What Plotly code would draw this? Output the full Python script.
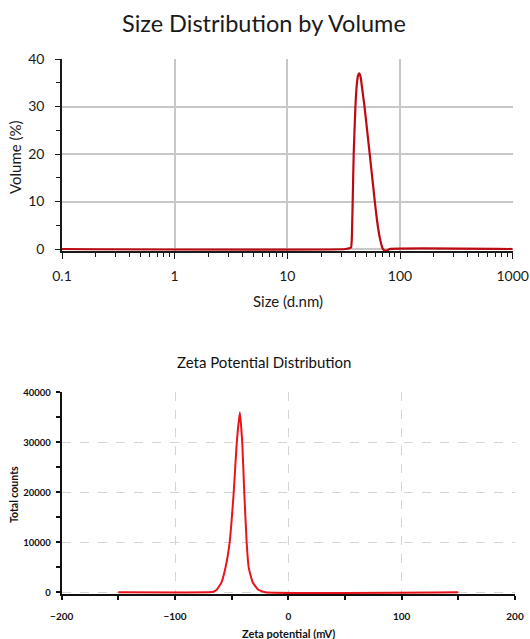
import plotly.graph_objects as go

# ---- data ----
size_nm = [0.1, 33.0, 36.7, 37.3, 38.0, 38.8, 40.2, 41.3, 42.4, 43.4, 44.6, 46.0, 48.4,
           51.2, 54.5, 57.6, 59.6, 62.5, 66.1, 69.8, 72.5, 77.0, 81.0, 1000]
volume_pct = [0, 0, 0.3, 2.0, 10, 20, 30, 34.5, 36.5, 37, 36.3, 34, 30,
              24.7, 18.8, 13.5, 10.2, 6, 2.4, 0.2, -0.3, -0.3, 0, 0]

zeta_mv = [-150, -70, -66, -63.2, -59, -55.4, -51.8, -48.2, -45.5, -42.8,
           -40.7, -38.9, -36.8, -35, -31.5, -26.4, -20.4, 150]
total_counts = [0, 0, 100, 500, 2000, 5000, 10000, 20000, 30000, 36000,
                30000, 20000, 10000, 5000, 2000, 500, 0, 0]

size_ticks = [0.1, 1, 10, 100, 1000]
size_ticktext = ["0.1", "1", "10", "100", "1000"]
size_minor = [a * b for a in [0.1, 1, 10, 100] for b in range(2, 10)]
volume_ticks = [0, 10, 20, 30, 40]
volume_minor = [5, 15, 25, 35]
zeta_ticks = [-200, -100, 0, 100, 200]
zeta_minor = [-150, -50, 50, 150]
count_ticks = [0, 10000, 20000, 30000, 40000]
count_minor = [5000, 15000, 25000, 35000]

W, H = 530, 639
def px(x): return x / W
def py(y): return 1 - y / H

FONT = "Lato, 'Open Sans', sans-serif"
INK = "#1a1a1a"

fig = go.Figure()
fig.add_trace(go.Scatter(x=size_nm, y=volume_pct, mode="lines",
                         line=dict(color="#bd0a12", width=2.2, shape="spline", smoothing=0.4),
                         xaxis="x", yaxis="y", showlegend=False, hoverinfo="x+y"))
fig.add_trace(go.Scatter(x=zeta_mv, y=total_counts, mode="lines",
                         line=dict(color="#e8141a", width=2, shape="spline", smoothing=0.4),
                         xaxis="x2", yaxis="y2", showlegend=False, hoverinfo="x+y"))

TOP_X = [px(62), px(512.7)]
TOP_Y = [py(250.9), py(59)]
BOT_X = [px(61.7), px(515)]
BOT_Y = [py(594.3), py(392.3)]

common = dict(zeroline=False, automargin=False, fixedrange=True)

def inner(**kw):
    d = dict(ticks="inside", showticklabels=False, showgrid=False, showline=False,
             zeroline=False, automargin=False, fixedrange=True)
    d.update(kw)
    return d

fig.update_layout(
    width=W, height=H,
    margin=dict(l=0, r=0, t=0, b=0),
    paper_bgcolor="white", plot_bgcolor="white",
    # ---- top chart ----
    xaxis=dict(domain=TOP_X, anchor="y", type="log", range=[-1, 3],
               tickvals=size_ticks, ticktext=size_ticktext,
               showgrid=True, gridcolor="#c8c8c8", gridwidth=1.5,
               showline=True, linecolor=INK, linewidth=1.5, layer="below traces",
               ticks="outside", ticklen=6, tickcolor=INK, tickwidth=1.3,
               minor=dict(ticks="outside", ticklen=4, tickcolor=INK, tickwidth=1,
                          tickvals=size_minor, showgrid=False),
               tickfont=dict(family=FONT, size=14, color=INK),
               ticklabelstandoff=6, **common),
    yaxis=dict(domain=TOP_Y, anchor="x", range=[-0.4, 40],
               tickvals=volume_ticks,
               showgrid=True, gridcolor="#c8c8c8", gridwidth=1.5,
               showline=True, linecolor=INK, linewidth=1.5, layer="below traces",
               ticks="outside", ticklen=5, tickcolor=INK, tickwidth=1.3,
               minor=dict(ticks="outside", ticklen=4, tickcolor=INK, tickwidth=1,
                          tickvals=volume_minor, showgrid=False),
               tickfont=dict(family=FONT, size=14, color=INK),
               ticklabelstandoff=8, **common),
    xaxis3=inner(overlaying="x", anchor="y", type="log", range=[-1, 3],
                 tickvals=size_ticks, ticklen=5, tickcolor=INK, tickwidth=1.3),
    yaxis3=inner(overlaying="y", anchor="x", range=[-0.4, 40],
                 tickvals=volume_ticks, ticklen=5, tickcolor=INK, tickwidth=1.3,
                 minor=dict(ticks="inside", ticklen=4, tickcolor=INK, tickwidth=1,
                            tickvals=volume_minor, showgrid=False)),
    # ---- bottom chart ----
    xaxis2=dict(domain=BOT_X, anchor="y2", range=[-200, 200],
                tickvals=zeta_ticks,
                showgrid=True, gridcolor="#d4d4d4", gridwidth=1, griddash="dash",
                showline=True, linecolor="#111111", linewidth=2, layer="below traces",
                ticks="outside", ticklen=4, tickcolor="#111111", tickwidth=1.5,
                minor=dict(ticks="outside", ticklen=4, tickcolor="#111111", tickwidth=1.5,
                           tickvals=zeta_minor, showgrid=False),
                tickfont=dict(family=FONT, size=10, color="#111111", weight="bold"),
                ticklabelstandoff=8, **common),
    yaxis2=dict(domain=BOT_Y, anchor="x2", range=[-400, 40000],
                tickvals=count_ticks, tickformat="d",
                showgrid=True, gridcolor="#d4d4d4", gridwidth=1, griddash="dash",
                showline=True, linecolor="#111111", linewidth=2, layer="below traces",
                ticks="outside", ticklen=4, tickcolor="#111111", tickwidth=1.5,
                minor=dict(ticks="outside", ticklen=4, tickcolor="#111111", tickwidth=1.5,
                           tickvals=count_minor, showgrid=False),
                tickfont=dict(family=FONT, size=9.5, color="#111111", weight="bold"),
                ticklabelstandoff=3, **common),
    xaxis4=inner(overlaying="x2", anchor="y2", range=[-200, 200],
                 tickvals=zeta_ticks, ticklen=4, tickcolor="#111111", tickwidth=1.5,
                 minor=dict(ticks="inside", ticklen=4, tickcolor="#111111", tickwidth=1.5,
                            tickvals=zeta_minor, showgrid=False)),
    yaxis4=inner(overlaying="y2", anchor="x2", range=[-400, 40000],
                 tickvals=count_ticks, ticklen=4, tickcolor="#111111", tickwidth=1.5,
                 minor=dict(ticks="inside", ticklen=4, tickcolor="#111111", tickwidth=1.5,
                            tickvals=count_minor, showgrid=False)),
)

ann = [
    dict(text="Size Distribution by Volume", x=px(264), y=py(23),
         font=dict(family=FONT, size=23.5, color=INK)),
    dict(text="Volume (%)", x=px(15), y=py(157), textangle=-90,
         font=dict(family=FONT, size=15, color=INK)),
    dict(text="Size (d.nm)", x=px(288), y=py(301),
         font=dict(family=FONT, size=15, color=INK)),
    dict(text="Zeta Potential Distribution", x=px(264), y=py(362),
         font=dict(family=FONT, size=15, color="#111111")),
    dict(text="Total counts", x=px(14), y=py(495), textangle=-90,
         font=dict(family=FONT, size=10.5, color="#111111", weight="bold")),
    dict(text="Zeta potential (mV)", x=px(288), y=py(633),
         font=dict(family=FONT, size=11, color="#111111", weight="bold")),
]
for a in ann:
    fig.add_annotation(xref="paper", yref="paper", showarrow=False,
                       xanchor="center", yanchor="middle", **a)

fig.write_html("out.html", config={"displayModeBar": False},
               post_script="document.body.style.margin='0';document.body.style.overflow='hidden';")
